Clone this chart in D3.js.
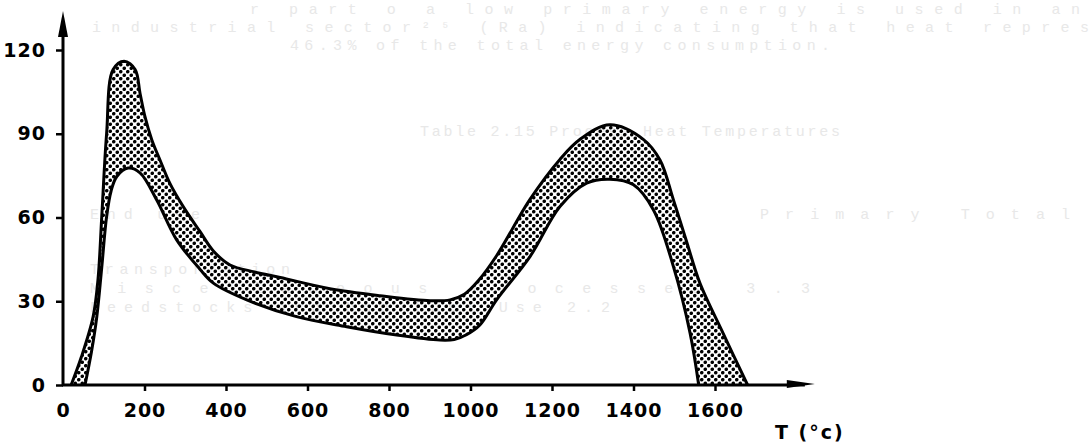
<!DOCTYPE html>
<html>
<head>
<meta charset="utf-8">
<script src="https://cdn.jsdelivr.net/npm/d3@7"></script>
<style>
  html, body { margin: 0; padding: 0; background: #fff; }
  svg { display: block; }
</style>
</head>
<body>
<div id="chart"></div>
<script>
// upper boundary of the band (T in °C, value)
const upperT = [20, 45, 74, 86, 95, 107, 123, 150, 177, 189, 201, 218, 238, 262, 295, 336, 369, 410, 470, 533, 655, 778, 901, 950, 985, 1020, 1064, 1146, 1220, 1269, 1342, 1424, 1465, 1498, 1530, 1563, 1620, 1680];
const upperV = [0, 10, 24.5, 38, 60, 90, 113, 116, 113, 104.5, 96.2, 87.8, 80.6, 72.3, 63.9, 55, 48, 43, 40.5, 38.5, 34.5, 32, 30.2, 30.5, 32.5, 37.5, 46.3, 66.5, 80.9, 88, 93.2, 88, 80.6, 66.3, 51.5, 36.5, 18.5, 0];

// lower boundary of the band
const lowerT = [54, 70, 83, 95, 107, 118, 132, 160, 189, 230, 279, 336, 369, 451, 573, 696, 819, 925, 960, 990, 1023, 1064, 1146, 1220, 1285, 1342, 1400, 1449, 1498, 1539, 1560];
const lowerV = [0, 12, 24.5, 42, 60.3, 69.5, 74.7, 77.7, 76, 66.3, 52, 41.5, 36.5, 30.5, 24.5, 20.9, 17.9, 16.1, 16.3, 18, 21.5, 30.5, 46, 64, 72.3, 73.7, 71.7, 62.7, 42.4, 18.5, 0];

const tempTicks = [0, 200, 400, 600, 800, 1000, 1200, 1400, 1600];
const valueTicks = [0, 30, 60, 90, 120];
const xTitle = "T (°c)";

// faint show-through text of the scanned page
const ghostText = [
  "r part  o  a low primary energy is used in an",
  "industrial sector²⁵ (Ra) indicating that heat repres",
  "46.3% of the total energy consumption.",
  "Table 2.15  Process Heat Temperatures",
  "End use",
  "Primary      Total",
  "Transportation",
  "Miscellaneous Processes           3.3",
  "Feedstocks and Non-fuel Use       2.2"
];
const ghostLayout = [
  [250, 14, 830], [92, 32, 997], [290, 50, 540], [420, 136, 420],
  [90, 219, 110], [760, 219, 310], [90, 274, 200], [90, 293, 720], [90, 312, 520]
];

const W = 1089, H = 448;
const svg = d3.select("#chart").append("svg")
  .attr("width", W).attr("height", H);

const x = d3.scaleLinear().domain([0, 1600]).range([63, 715]);
const y = d3.scaleLinear().domain([0, 120]).range([385, 50]);

const defs = svg.append("defs");
const pat = defs.append("pattern")
  .attr("id", "dots")
  .attr("patternUnits", "userSpaceOnUse")
  .attr("width", 7).attr("height", 7);
pat.append("circle").attr("cx", 1.75).attr("cy", 1.75).attr("r", 1.8).attr("fill", "#000");
pat.append("circle").attr("cx", 5.25).attr("cy", 5.25).attr("r", 1.8).attr("fill", "#000");

// ghost text
svg.append("g")
  .selectAll("text")
  .data(ghostText)
  .join("text")
  .attr("x", (d, i) => ghostLayout[i][0])
  .attr("y", (d, i) => ghostLayout[i][1])
  .attr("textLength", (d, i) => ghostLayout[i][2])
  .attr("lengthAdjust", "spacing")
  .style("font-family", "'Liberation Mono', monospace")
  .style("font-size", "15px")
  .style("fill", "#e8e8e8")
  .text(d => d);

const upper = upperT.map((t, i) => [t, upperV[i]]);
const lower = lowerT.map((t, i) => [t, lowerV[i]]);

const line = d3.line()
  .x(d => x(d[0]))
  .y(d => y(d[1]))
  .curve(d3.curveCatmullRom.alpha(0.5));

// band fill
const bandPath = line(upper) + "L" + line(lower.slice().reverse()).slice(1) + "Z";
svg.append("path")
  .attr("d", bandPath)
  .attr("fill", "url(#dots)")
  .attr("stroke", "none");

// boundary curves
[upper, lower].forEach(pts => {
  svg.append("path")
    .attr("d", line(pts))
    .attr("fill", "none")
    .attr("stroke", "#000")
    .attr("stroke-width", 3)
    .attr("stroke-linejoin", "round");
});

const labelFont = "'DejaVu Sans', sans-serif";

// x axis
const xAxis = svg.append("g")
  .attr("transform", `translate(0,${y(0)})`)
  .call(d3.axisBottom(x).tickValues(tempTicks).tickFormat(d3.format("d"))
    .tickSize(6).tickPadding(13).tickSizeOuter(0));
xAxis.select(".domain").remove();
xAxis.selectAll(".tick line").attr("stroke", "#000").attr("stroke-width", 2.5)
  .filter(d => d === 0).remove();
xAxis.selectAll("text")
  .style("font-family", labelFont)
  .style("font-size", "19px")
  .style("font-weight", "bold")
  .style("letter-spacing", "1px")
  .attr("fill", "#000");

// y axis
const yAxis = svg.append("g")
  .attr("transform", `translate(${x(0)},0)`)
  .call(d3.axisLeft(y).tickValues(valueTicks).tickFormat(d3.format("d"))
    .tickSize(7).tickPadding(10).tickSizeOuter(0));
yAxis.select(".domain").remove();
yAxis.selectAll(".tick line").attr("stroke", "#000").attr("stroke-width", 2.5);
yAxis.selectAll("text")
  .style("font-family", labelFont)
  .style("font-size", "19px")
  .style("font-weight", "bold")
  .style("letter-spacing", "1px")
  .attr("fill", "#000");

// axis lines with arrows
const xEnd = x(1845), yTop = y(134);
svg.append("line")
  .attr("x1", x(0) - 1).attr("x2", xEnd - 10)
  .attr("y1", y(0)).attr("y2", y(0))
  .attr("stroke", "#000").attr("stroke-width", 3);
svg.append("path")
  .attr("d", `M${xEnd},${y(0) - 1}L${xEnd - 28},${y(0) - 5}L${xEnd - 28},${y(0) + 3}Z`)
  .attr("fill", "#000");

svg.append("line")
  .attr("x1", x(0)).attr("x2", x(0))
  .attr("y1", y(0) + 1).attr("y2", yTop + 10)
  .attr("stroke", "#000").attr("stroke-width", 3);
svg.append("path")
  .attr("d", `M${x(0)},${yTop}L${x(0) - 5},${yTop + 26}L${x(0) + 5},${yTop + 26}Z`)
  .attr("fill", "#000");

// x title
svg.append("text")
  .attr("x", 775)
  .attr("y", 439)
  .style("font-family", labelFont)
  .style("font-size", "19px")
  .style("font-weight", "bold")
  .style("letter-spacing", "2px")
  .text(xTitle);
</script>
</body>
</html>
